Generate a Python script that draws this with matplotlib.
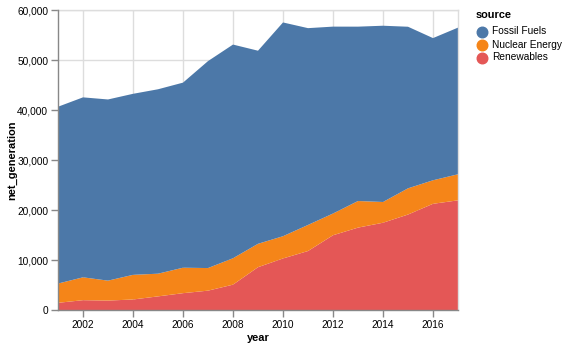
import matplotlib
matplotlib.use("Agg")
import matplotlib.pyplot as plt
from matplotlib.ticker import FuncFormatter

plt.rcParams['font.family'] = ['Liberation Sans', 'DejaVu Sans']

years = list(range(2001, 2018))
fossil = [35361, 35991, 36234, 36205, 36883, 37014, 41389, 42734, 38620, 42750,
          39361, 37379, 34873, 35250, 32319, 28437, 29329]
nuclear = [3853, 4574, 3988, 4929, 4538, 5095, 4519, 5282, 4679, 4451,
           5215, 4347, 5321, 4152, 5243, 4703, 5214]
renewables = [1437, 1963, 1885, 2102, 2724, 3364, 3870, 5070, 8560, 10308,
              11795, 14949, 16476, 17452, 19091, 21241, 21933]
sources = ["Fossil Fuels", "Nuclear Energy", "Renewables"]
colors = ["#4c78a8", "#f58518", "#e45756"]
y_ticks = [0, 10000, 20000, 30000, 40000, 50000, 60000]
x_ticks = [2002, 2004, 2006, 2008, 2010, 2012, 2014, 2016]

W, H = 566, 347
fig = plt.figure(figsize=(W / 100, H / 100), dpi=100)
L, R, T, B = 58, 458, 10, 310
ax = fig.add_axes([L / W, 1 - B / H, (R - L) / W, (B - T) / H])

ax.stackplot(years, renewables, nuclear, fossil,
             colors=[colors[2], colors[1], colors[0]], linewidth=0, zorder=2)

ax.set_xlim(2001, 2017)
ax.set_ylim(0, 60000)
ax.set_xticks(x_ticks)
ax.set_yticks(y_ticks)
ax.yaxis.set_major_formatter(FuncFormatter(lambda v, p: f"{int(v):,}"))
ax.grid(True, color="#dddddd", linewidth=1, zorder=0)
ax.set_axisbelow(True)

for s in ["top", "right"]:
    ax.spines[s].set_color("#dddddd")
    ax.spines[s].set_linewidth(1)
for s in ["left", "bottom"]:
    ax.spines[s].set_color("#888888")
    ax.spines[s].set_linewidth(1)
    ax.spines[s].set_zorder(3)
ax.tick_params(axis="both", length=5, width=1, color="#888888",
               labelsize=7.3, labelcolor="#000000", pad=2)

def fx(px):
    return px / W

def fy(py):
    return 1 - py / H

fig.text(fx(258), fy(338), "year", fontsize=7.9, fontweight="bold",
         ha="center", va="center")
fig.text(fx(12), fy(160), "net_generation", fontsize=7.9, fontweight="bold",
         ha="center", va="center", rotation=90)

# legend
fig.text(fx(476), fy(15.5), "source", fontsize=7.9, fontweight="bold",
         ha="left", va="center")
for i, (name, c) in enumerate(zip(sources, colors)):
    yy = 31.5 + 13 * i
    fig.add_artist(plt.Line2D([fx(482)], [fy(yy)], marker="o", markersize=7.6,
                              markerfacecolor=c, markeredgecolor=c,
                              linestyle="none", transform=fig.transFigure))
    fig.text(fx(492), fy(yy), name, fontsize=7.3, ha="left", va="center")

fig.savefig("out.png", dpi=100)
